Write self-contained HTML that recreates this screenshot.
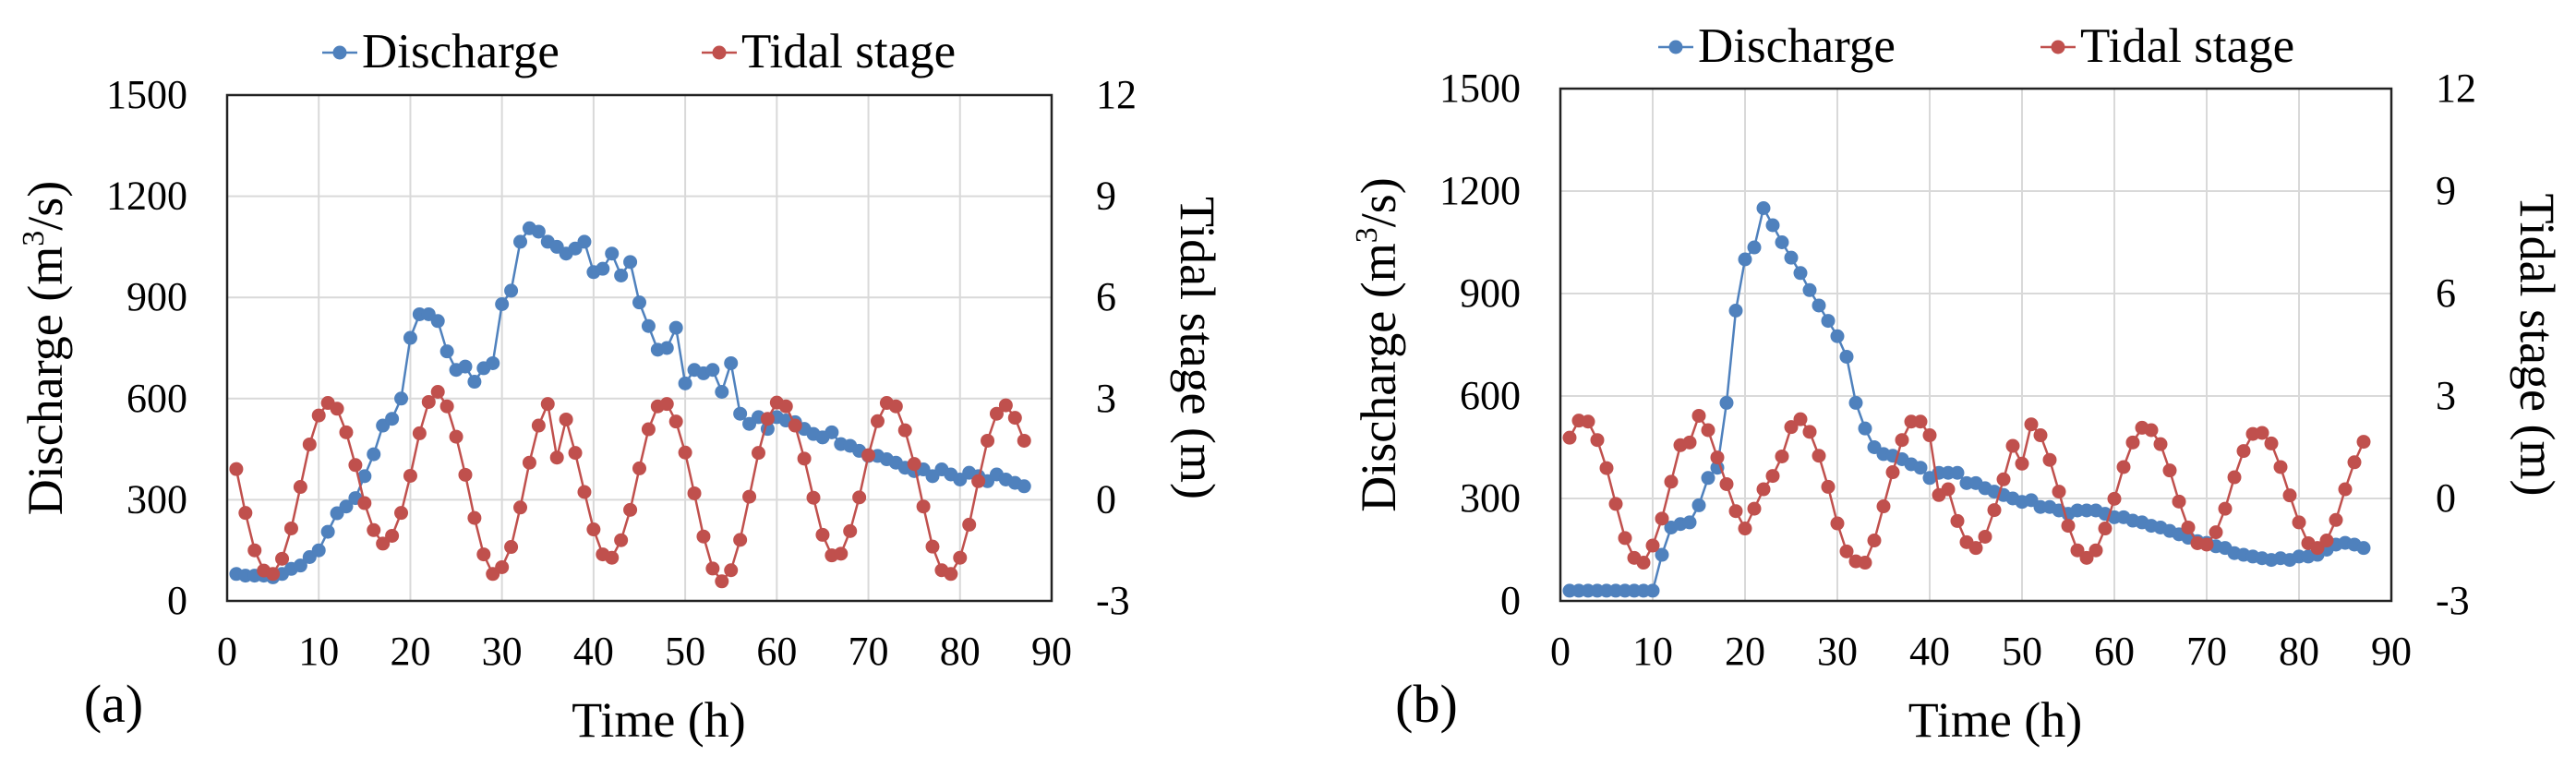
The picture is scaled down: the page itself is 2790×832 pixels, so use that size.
<!DOCTYPE html>
<html><head><meta charset="utf-8"><style>
html,body{margin:0;padding:0;background:#fff;}
svg, svg text, svg tspan{font-family:"Liberation Serif","Times New Roman",Times,"Tinos","DejaVu Serif",serif !important;}
</style></head><body>
<svg id="fig" width="2790" height="827" viewBox="0 0 2790 827" xmlns="http://www.w3.org/2000/svg"></svg>
<script>
// ---- data ----
const hoursA = Array.from({length:87},(_,i)=>i+1);
const dischargeA = [80,75,75,75,70,80,95,105,130,150,205,260,280,305,370,435,520,540,600,780,850,850,830,740,685,695,650,690,705,880,920,1065,1105,1095,1065,1050,1030,1045,1065,975,985,1030,965,1005,885,815,745,750,810,645,685,675,685,620,705,555,525,545,510,545,535,530,510,495,485,500,465,460,445,430,430,420,410,395,385,390,370,390,375,360,380,370,355,375,360,350,340];
const tideA = [0.91,-0.39,-1.5,-2.1,-2.2,-1.75,-0.85,0.38,1.64,2.5,2.87,2.7,2.0,1.03,-0.1,-0.9,-1.3,-1.07,-0.39,0.71,1.97,2.9,3.2,2.77,1.87,0.74,-0.54,-1.62,-2.2,-2.0,-1.4,-0.23,1.1,2.2,2.84,1.25,2.38,1.39,0.23,-0.88,-1.62,-1.72,-1.2,-0.3,0.93,2.09,2.77,2.84,2.32,1.4,0.19,-1.09,-2.04,-2.42,-2.09,-1.19,0.09,1.39,2.4,2.88,2.77,2.2,1.22,0.06,-1.04,-1.65,-1.6,-0.93,0.07,1.32,2.33,2.87,2.77,2.06,1.06,-0.2,-1.39,-2.09,-2.2,-1.72,-0.74,0.55,1.75,2.55,2.8,2.43,1.75];
const hoursB = Array.from({length:87},(_,i)=>i+1);
const dischargeB = [30,30,30,30,30,30,30,30,30,30,135,215,225,230,280,360,390,580,850,1000,1035,1150,1100,1050,1005,960,910,865,820,775,715,580,505,450,430,425,415,400,390,360,375,375,375,345,345,330,320,310,300,290,295,275,275,265,255,265,265,265,255,245,245,235,230,220,215,205,195,185,175,170,160,155,140,135,130,125,120,125,120,130,130,135,150,165,170,165,155];
const tideB = [1.78,2.28,2.25,1.71,0.89,-0.16,-1.16,-1.74,-1.88,-1.38,-0.59,0.49,1.56,1.64,2.42,2.0,1.2,0.42,-0.37,-0.88,-0.3,0.27,0.66,1.23,2.09,2.32,1.95,1.25,0.34,-0.73,-1.55,-1.84,-1.88,-1.23,-0.23,0.77,1.71,2.25,2.25,1.85,0.1,0.27,-0.66,-1.28,-1.45,-1.12,-0.34,0.56,1.54,1.02,2.17,1.85,1.13,0.2,-0.8,-1.52,-1.74,-1.52,-0.88,-0.01,0.92,1.64,2.07,2.0,1.59,0.82,-0.09,-0.85,-1.31,-1.35,-0.99,-0.3,0.62,1.39,1.89,1.92,1.61,0.92,0.09,-0.7,-1.31,-1.45,-1.23,-0.63,0.27,1.06,1.66];
const xTicks = [0,10,20,30,40,50,60,70,80,90];
const yLeftTicks = [0,300,600,900,1200,1500];
const yRightTicks = [-3,0,3,6,9,12];

const NS="http://www.w3.org/2000/svg";
const svg=document.getElementById('fig');
function mk(tag,attrs,parent,text){const e=document.createElementNS(NS,tag);for(const k in attrs)e.setAttribute(k,attrs[k]);if(text!==undefined)e.textContent=text;(parent||svg).appendChild(e);return e;}
const BLUE="#4F81BD", RED="#C0504D";

function panel(cfg){
  const g=mk('g',{});
  
  
  const L=cfg.left,R=cfg.right,T=cfg.top,B=cfg.bottom;
  const xs=v=>L+(v-0)/90*(R-L);
  const ysL=v=>B-(v-0)/1500*(B-T);
  const ysR=v=>B-(v+3)/15*(B-T);
  xTicks.forEach(t=>{ if(t>0&&t<90){const l=mk('line',{x1:xs(t),x2:xs(t),y1:T,y2:B,stroke:'#d9d9d9','stroke-width':2},g);
    }});
  yLeftTicks.forEach(t=>{ if(t>0&&t<1500){const l=mk('line',{x1:L,x2:R,y1:ysL(t),y2:ysL(t),stroke:'#d9d9d9','stroke-width':2},g);
    }});
  const fr=mk('rect',{x:L,y:T,width:R-L,height:B-T,fill:'none',stroke:'#222','stroke-width':2.5},g);
  
  xTicks.forEach(t=>{const e=mk('text',{x:xs(t),y:B+69,'font-size':44,'text-anchor':'middle'},g,String(t));
    });
  yLeftTicks.forEach(t=>{const e=mk('text',{x:L-43,y:ysL(t)+14,'font-size':44,'text-anchor':'end'},g,String(t));
    });
  yRightTicks.forEach(t=>{const e=mk('text',{x:R+48,y:ysR(t)+14,'font-size':44,'text-anchor':'start'},g,String(t));
    });
  const xt=mk('text',{x:(L+R)/2+21,y:B+147,'font-size':54,'text-anchor':'middle'},g,'Time (h)');
  
  const lt=mk('text',{x:0,y:0,'font-size':54,'text-anchor':'middle',transform:`translate(${L-179},${(T+B)/2}) rotate(-90)`},g);
  
  mk('tspan',{},lt,'Discharge (m');mk('tspan',{'font-size':34,dy:-20},lt,'3');mk('tspan',{dy:20},lt,'/s)');
  const rt=mk('text',{x:0,y:0,'font-size':54,'text-anchor':'middle',transform:`translate(${R+140},${(T+B)/2}) rotate(90)`},g,'Tidal stage (m)');
  
  const pl=mk('text',{x:cfg.labelX,y:782,'font-size':58,'text-anchor':'middle'},g,cfg.label);
  
  function series(xsArr,vals,ysf,color,name){
    const sg=mk('g',{},g);
    
    const pts=vals.map((v,i)=>xs(xsArr[i]).toFixed(1)+','+ysf(v).toFixed(1)).join(' ');
    const pline=mk('polyline',{points:pts,fill:'none',stroke:color,'stroke-width':2.5},sg);
    
    vals.forEach((v,i)=>{const c=mk('circle',{cx:xs(xsArr[i]),cy:ysf(v),r:7.5,fill:color},sg);
      });
  }
  series(cfg.hours,cfg.dis,ysL,BLUE,'discharge');
  series(cfg.hours,cfg.tide,ysR,RED,'tidal-stage');
  const lg=mk('g',{},g);
  
  const entries=[[cfg.legX1,BLUE,'Discharge'],[cfg.legX2,RED,'Tidal stage']];
  entries.forEach(([mx,col,txt])=>{
    const eg=mk('g',{},lg);
    
    mk('line',{x1:mx-19,x2:mx+19,y1:cfg.legY-16,y2:cfg.legY-16,stroke:col,'stroke-width':2.5},eg);
    mk('circle',{cx:mx,cy:cfg.legY-16,r:7.5,fill:col},eg);
    mk('text',{x:mx+24,y:cfg.legY,'font-size':53},eg,txt);
  });
}
panel({tag:'a',left:246,right:1139,top:103,bottom:651,hours:hoursA,dis:dischargeA,tide:tideA,label:'(a)',labelX:123,legX1:368,legX2:779,legY:73});
panel({tag:'b',left:1690,right:2590,top:96,bottom:651,hours:hoursB,dis:dischargeB,tide:tideB,label:'(b)',labelX:1545,legX1:1815,legX2:2229,legY:67});
</script>
</body></html>
